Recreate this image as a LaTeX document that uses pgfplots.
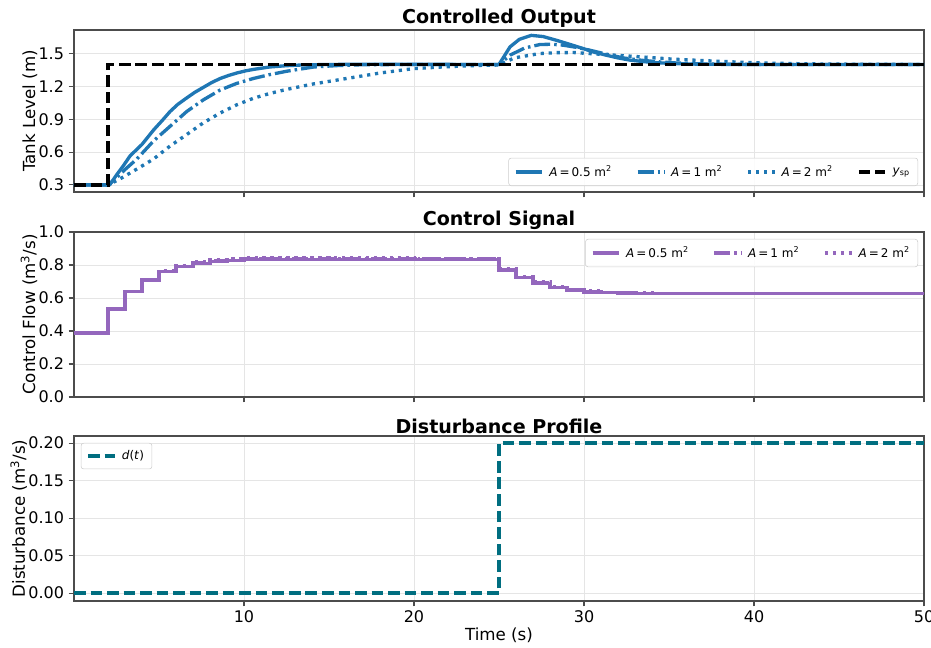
\documentclass[border=0pt]{standalone}
\usepackage{fontspec}
\setmainfont{DejaVu Sans}
\usepackage{pgfplots}
\pgfplotsset{compat=1.18}
\definecolor{mplblue}{HTML}{1F77B4}
\definecolor{mplpurple}{HTML}{9467BD}
\definecolor{dteal}{HTML}{006E80}
\pgfplotsset{
  mystyle/.style={
    scale only axis, width=637.5pt,
    xmin=0, xmax=50, xtick={10,20,30,40,50},
    grid=major, major grid style={gray!20, line width=0.5pt},
    axis line style={black!70, line width=0.8pt},
    tick style={black!70, line width=0.8pt}, major tick length=4pt, tick align=outside,
    xtick pos=bottom, ytick pos=left,
    tick label style={font=\fontsize{12}{14}\selectfont},
    label style={font=\fontsize{12.5}{14}\selectfont},
    ylabel style={yshift=-6pt},
    xlabel style={yshift=3pt},
    title style={font=\bfseries\fontsize{14.3}{16}\selectfont, yshift=-8pt},
    /pgf/number format/assume math mode=true,
    legend cell align=left,
    legend style={font=\fontsize{9}{10}\selectfont, draw=black!20, rounded corners=2pt,
      fill=white, fill opacity=0.85, text opacity=1, inner xsep=4pt, inner ysep=3.5pt,
      /tikz/every odd column/.append style={column sep=2pt},
      /tikz/every even column/.append style={column sep=16pt}},
    legend image code/.code={\draw (0pt,0pt) -- (20pt,0pt);},
  },
  dashdotS/.style={dash pattern=on 12pt off 3pt on 1.9pt off 3pt},
  dotS/.style={dash pattern=on 2.4pt off 3.6pt},
  dashS/.style={dash pattern=on 8.7pt off 3.7pt},
}
\begin{document}
\begin{tikzpicture}
\path[use as bounding box] (-55.5pt,22.5pt) rectangle (642.75pt,-463.5pt);
% ---------------- Top ----------------
\begin{axis}[mystyle, at={(0pt,0pt)}, anchor=north west, height=121.5pt,
  ymin=0.235, ymax=1.715, ytick={0.3,0.6,0.9,1.2,1.5},
  yticklabel style={/pgf/number format/.cd, fixed, fixed zerofill, precision=1},
  xticklabels={},
  ylabel={Tank Level (m)}, title={Controlled Output},
  legend columns=4,
  legend style={at={(0.993,0.037)}, anchor=south east}]
\addplot[mplblue, line width=2.5pt, line join=round] coordinates {
(0,0.3) (2.0,0.3) (2.1,0.30) (2.5,0.39) (2.9,0.474) (3.3,0.565) (4.0,0.67) (4.7,0.805)
(5.2,0.89) (5.65,0.97) (6.1,1.035) (6.6,1.091) (7.1,1.145) (7.6,1.19) (8.1,1.235)
(8.6,1.272) (9.1,1.30) (9.6,1.323) (10.1,1.342) (10.6,1.356) (11.5,1.377) (12.5,1.389)
(13.5,1.396) (15,1.40) (17,1.402) (20,1.401) (25.0,1.40) (25.65,1.561) (26.2,1.63)
(26.9,1.666) (27.6,1.655) (28.4,1.62) (29.2,1.582) (29.96,1.545) (30.6,1.512) (31.3,1.485)
(32.0,1.46) (32.7,1.44) (33.5,1.426) (34.3,1.416) (35.5,1.407) (37,1.402) (40,1.40) (50,1.40)};
\addlegendentry{\textit{A}\,=\,0.5 m\textsuperscript{2}}
\addplot[mplblue, line width=2.5pt, dashdotS] coordinates {
(0,0.3) (2.0,0.3) (2.31,0.339) (3.0,0.44) (3.69,0.535) (4.67,0.70) (5.65,0.835) (6.63,0.97)
(7.6,1.076) (8.59,1.166) (9.57,1.227) (10.55,1.272) (11.53,1.308) (12.5,1.338) (14.1,1.377)
(15.5,1.39) (17,1.398) (20,1.40) (25,1.40) (25.65,1.485) (26.5,1.55) (27.4,1.582) (28.1,1.585)
(28.8,1.576) (29.6,1.555) (30.35,1.53) (31.3,1.495) (32.3,1.46) (33.3,1.44) (34.3,1.425)
(35.5,1.413) (37,1.405) (39,1.401) (42,1.40) (50,1.40)};
\addlegendentry{\textit{A}\,=\,1 m\textsuperscript{2}}
\addplot[mplblue, line width=2.5pt, dotS] coordinates {
(0,0.3) (2.0,0.3) (2.7,0.354) (3.69,0.444) (4.67,0.535) (5.65,0.655) (6.63,0.76) (7.6,0.866)
(8.59,0.956) (9.57,1.031) (10.55,1.091) (11.53,1.136) (12.5,1.172) (14,1.22) (16.04,1.272)
(18,1.322) (19.96,1.362) (22,1.38) (23.9,1.392) (25,1.395) (25.9,1.46) (27.4,1.50) (28.4,1.508)
(29.4,1.509) (31.3,1.49) (33.3,1.47) (35.2,1.449) (37.2,1.434) (39,1.422) (41,1.412) (43,1.406)
(46,1.402) (50,1.40)};
\addlegendentry{\textit{A}\,=\,2 m\textsuperscript{2}}
\addplot[black, line width=2.8pt, dashS] coordinates {(0,0.3) (2,0.3) (2,1.4) (50,1.4)};
\addlegendentry{\textit{y}\textsubscript{sp}}
\end{axis}
% ---------------- Middle ----------------
\begin{axis}[mystyle, at={(0pt,-151.5pt)}, anchor=north west, height=123.75pt,
  ymin=0, ymax=1, ytick={0,0.2,0.4,0.6,0.8,1.0},
  yticklabel style={/pgf/number format/.cd, fixed, fixed zerofill, precision=1},
  xticklabels={},
  ylabel={Control Flow (m\textsuperscript{3}/s)}, title={Control Signal},
  legend columns=3,
  legend style={at={(0.993,0.958)}, anchor=north east}]
\addplot[mplpurple, line width=2.5pt, const plot mark left] coordinates {
(0,0.388) (2,0.533) (3,0.638) (4,0.709) (5,0.76) (6,0.79) (7,0.81) (8,0.822) (9,0.829)
(10,0.832) (11,0.834) (12,0.834) (13,0.834) (14,0.834) (15,0.834) (16,0.834) (17,0.834)
(18,0.834) (19,0.834) (20,0.834) (21,0.834) (22,0.834) (23,0.834) (24,0.834) (25,0.77)
(26,0.723) (27,0.689) (28,0.662) (29,0.648) (30,0.637) (31,0.632) (32,0.630) (33,0.629)
(34,0.628) (50,0.628)};
\addlegendentry{\textit{A}\,=\,0.5 m\textsuperscript{2}}
\addplot[mplpurple, line width=2.5pt, const plot mark left, dashdotS] coordinates {
(0,0.388) (2,0.533) (3,0.638) (4,0.709) (5,0.762) (6,0.792) (7,0.813) (8,0.826) (9,0.833)
(10,0.836) (11,0.838) (12,0.838) (13,0.838) (14,0.838) (15,0.838) (16,0.838) (17,0.838)
(18,0.838) (19,0.837) (20,0.837) (21,0.837) (22,0.836) (23,0.836) (24,0.836) (25,0.772)
(26,0.726) (27,0.692) (28,0.665) (29,0.650) (30,0.639) (31,0.633) (32,0.631) (33,0.629)
(34,0.628) (50,0.628)};
\addlegendentry{\textit{A}\,=\,1 m\textsuperscript{2}}
\addplot[mplpurple, line width=2.5pt, const plot mark left, dotS] coordinates {
(0,0.388) (2,0.533) (3,0.638) (4,0.709) (5,0.765) (6,0.797) (7,0.818) (8,0.832) (9,0.840)
(10,0.844) (11,0.846) (12,0.846) (13,0.846) (14,0.846) (15,0.845) (16,0.845) (17,0.844)
(18,0.843) (19,0.842) (20,0.841) (21,0.840) (22,0.839) (23,0.838) (24,0.837) (25,0.775)
(26,0.730) (27,0.696) (28,0.669) (29,0.653) (30,0.642) (31,0.635) (32,0.632) (33,0.630)
(34,0.629) (50,0.628)};
\addlegendentry{\textit{A}\,=\,2 m\textsuperscript{2}}
\end{axis}
% ---------------- Bottom ----------------
\begin{axis}[mystyle, at={(0pt,-304.5pt)}, anchor=north west, height=123.75pt,
  ymin=-0.0105, ymax=0.2095, ytick={0,0.05,0.10,0.15,0.20},
  yticklabel style={/pgf/number format/.cd, fixed, fixed zerofill, precision=2},
  xlabel={Time (s)},
  ylabel={Disturbance (m\textsuperscript{3}/s)}, title={Disturbance Profile},
  legend style={at={(0.008,0.958)}, anchor=north west}]
\addplot[dteal, line width=2.6pt, dashS] coordinates {(0,0) (25,0) (25,0.2) (50,0.2)};
\addlegendentry{\textit{d}(\textit{t})}
\end{axis}
\end{tikzpicture}
\end{document}
